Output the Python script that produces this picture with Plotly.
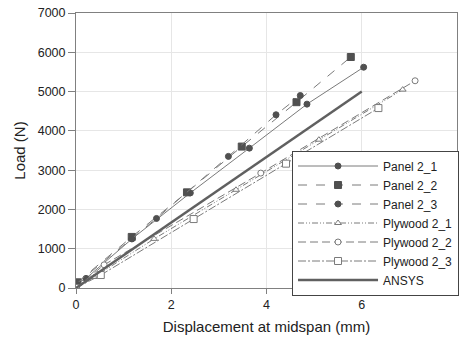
import plotly.graph_objects as go

# Data
p21_x = [0.0, 0.21, 1.18, 2.40, 3.64, 4.85, 6.04]
p21_y = [100, 245, 1255, 2420, 3560, 4680, 5620]
p22_x = [0.03, 1.17, 2.33, 3.48, 4.63, 5.77]
p22_y = [145, 1300, 2435, 3600, 4730, 5880]
p23_x = [0.0, 1.17, 1.69, 3.20, 4.20, 4.71]
p23_y = [100, 1250, 1770, 3350, 4410, 4900]
w21_x = [0.0, 0.38, 1.64, 3.36, 5.10, 6.86]
w21_y = [0, 280, 1250, 2500, 3775, 5050]
w22_x = [0.0, 0.59, 3.88, 7.12]
w22_y = [0, 590, 2925, 5275]
w23_x = [0.0, 0.52, 2.47, 4.41, 6.35]
w23_y = [0, 330, 1755, 3165, 4580]
ansys_x = [0, 6]
ansys_y = [0, 5000]

x_ticks = [0, 2, 4, 6, 8]
y_ticks = [0, 1000, 2000, 3000, 4000, 5000, 6000, 7000]

dark = "#505050"
lcol = "#7a7a7a"

fig = go.Figure()
series = [
    ("Panel 2_1", p21_x, p21_y, "solid", "circle", dark, dark, 6),
    ("Panel 2_2", p22_x, p22_y, "dash", "square", dark, dark, 7),
    ("Panel 2_3", p23_x, p23_y, "dash", "circle", dark, dark, 6),
    ("Plywood 2_1", w21_x, w21_y, "6px,2px,1px,2px,1px,2px", "triangle-up", "white", lcol, 6),
    ("Plywood 2_2", w22_x, w22_y, "8px,4px", "circle", "white", lcol, 6),
    ("Plywood 2_3", w23_x, w23_y, "8px,2px,2px,2px", "square", "white", lcol, 7),
]
for name, xs, ys, dash, sym, fill, mline, sz in series:
    fig.add_trace(go.Scatter(
        x=xs, y=ys, name=name, mode="lines+markers",
        line=dict(color=lcol, width=1, dash=dash),
        marker=dict(symbol=sym, size=sz, color=fill, line=dict(color=mline, width=1)),
    ))
fig.add_trace(go.Scatter(x=ansys_x, y=ansys_y, name="ANSYS", mode="lines",
                         line=dict(color="#606060", width=2.5)))

axis_common = dict(showline=True, linecolor="#808080", linewidth=1, mirror=True,
                   showgrid=True, gridcolor="#e6e6e6", gridwidth=1,
                   ticks="outside", tickcolor="#808080",
                   zeroline=False, tickfont=dict(size=12.5, color="#222"))
fig.update_xaxes(range=[0, 8], tickvals=x_ticks, ticktext=[str(v) for v in x_ticks], ticklen=5,
                 title=dict(text="Displacement at midspan (mm)", font=dict(size=15, color="#222"), standoff=10),
                 **axis_common)
fig.update_yaxes(range=[0, 7000], tickvals=y_ticks, ticktext=[str(v) for v in y_ticks], ticklen=7,
                 title=dict(text="Load (N)", font=dict(size=15, color="#222"), standoff=8),
                 **axis_common)

fig.update_layout(
    width=460, height=342,
    margin=dict(l=76, r=1, t=13, b=54),
    paper_bgcolor="white", plot_bgcolor="white",
    font=dict(family="Liberation Sans, Arial, sans-serif", color="#222"),
    legend=dict(x=0.567, y=0.50, xanchor="left", yanchor="top",
                bgcolor="white", bordercolor="#444", borderwidth=1,
                font=dict(size=12), tracegroupgap=0, itemwidth=80),
    showlegend=True,
)
fig.write_html("out.html")
